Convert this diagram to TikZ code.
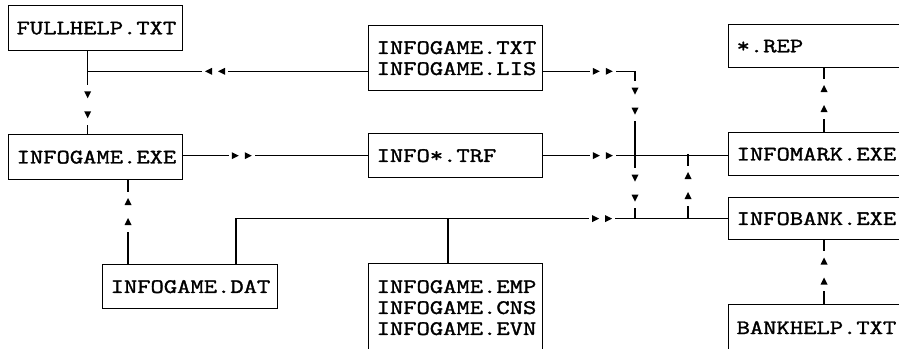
\documentclass[tikz,border=0pt]{standalone}
\usepackage{fontspec}
\newfontfamily\gamemono{Latin Modern Mono}[FakeStretch=1.26,FakeBold=1.6]
\usetikzlibrary{decorations.markings}
\newcommand\filefont{\gamemono\fontsize{20.5}{21}\selectfont}
% two small triangles sitting in a gap of the line
\newcommand\pairmark[1]{%
  \fill[white] (-2*#1,-3) rectangle (2*#1,3);
  \fill[black] (-#1-3.5,-3.5) -- (-#1-3.5,3.5) -- (-#1+3.5,0) -- cycle;
  \fill[black] (#1-3.5,-3.5) -- (#1-3.5,3.5) -- (#1+3.5,0) -- cycle;}
\tikzset{
  filebox/.style={draw, line width=1.3pt, anchor=north west, inner ysep=0pt,
    inner xsep=8pt, text width=158pt, minimum height=45pt, align=left, font=\filefont},
  link/.style={line width=1.3pt},
  hpair/.style={postaction={decorate, decoration={markings,
    mark=at position #1 with {\pairmark{6.5}}}}},
  vpair/.style={postaction={decorate, decoration={markings,
    mark=at position #1 with {\pairmark{10}}}}}
}
\begin{document}
\begin{tikzpicture}[x=1pt,y=-1pt]
\useasboundingbox (0,0) rectangle (899,348);
\clip (0,0) rectangle (899,348);

% files and programs
\node[filebox] (full) at (8,5) {FULLHELP.TXT};
\node[filebox, minimum height=65pt] (txt) at (368,25) {INFOGAME.TXT\\INFOGAME.LIS};
\node[filebox, minimum height=43pt, text width=164pt] (rep) at (728,24) {*.REP};
\node[filebox] (exe) at (8,134) {INFOGAME.EXE};
\node[filebox, minimum height=44pt] (trf) at (368,133) {INFO*.TRF};
\node[filebox, minimum height=43pt, text width=164pt] (mark) at (728,132) {INFOMARK.EXE};
\node[filebox, minimum height=42pt, text width=164pt] (bank) at (728,197) {INFOBANK.EXE};
\node[filebox, minimum height=44pt, text width=159pt] (dat) at (102,264) {INFOGAME.DAT};
\node[filebox, minimum height=88pt] (emp) at (368,263) {INFOGAME.EMP\\INFOGAME.CNS\\INFOGAME.EVN};
\node[filebox, minimum height=46pt, text width=164pt] (bhelp) at (728,304) {BANKHELP.TXT};

\coordinate (lis) at ([yshift=20pt]txt.south west);
\coordinate (jdown) at (635,218);
\coordinate (jup) at (688,218);

% data flow
\draw[link, vpair=53.5pt] ([xshift=-8pt]full.south) -- ([xshift=-8pt]full.south |- exe.north);
\draw[link, hpair=153pt] (lis) -- ([xshift=-8pt]full.south |- lis);
\draw[link, hpair=58.5pt] (exe.east |- trf.west) -- (trf.west);
\draw[link, hpair=59.5pt] (trf.east) -- (trf.east -| mark.west);
\draw[link, hpair=59.5pt, vpair=121.5pt, vpair=208.5pt] (lis -| txt.east) -| (jdown);
\draw[link, vpair=32.5pt] (jup) -- (jup |- mark.west);
\draw[link, hpair=411.5pt] ([xshift=134pt]dat.north west) |- (bank.west);
\draw[link] ([xshift=80pt]emp.north west) -- ([xshift=80pt]emp.north west |- bank.west);
\draw[link, vpair=52.5pt] ([xshift=26pt]dat.north west) -- ([xshift=26pt]dat.north west |- exe.south);
\draw[link, vpair=33.5pt] ([xshift=96pt]mark.north west) -- ([xshift=96pt]mark.north west |- rep.south);
\draw[link, vpair=33pt] ([xshift=96pt]bhelp.north west) -- ([xshift=96pt]bhelp.north west |- bank.south);
\end{tikzpicture}
\end{document}
